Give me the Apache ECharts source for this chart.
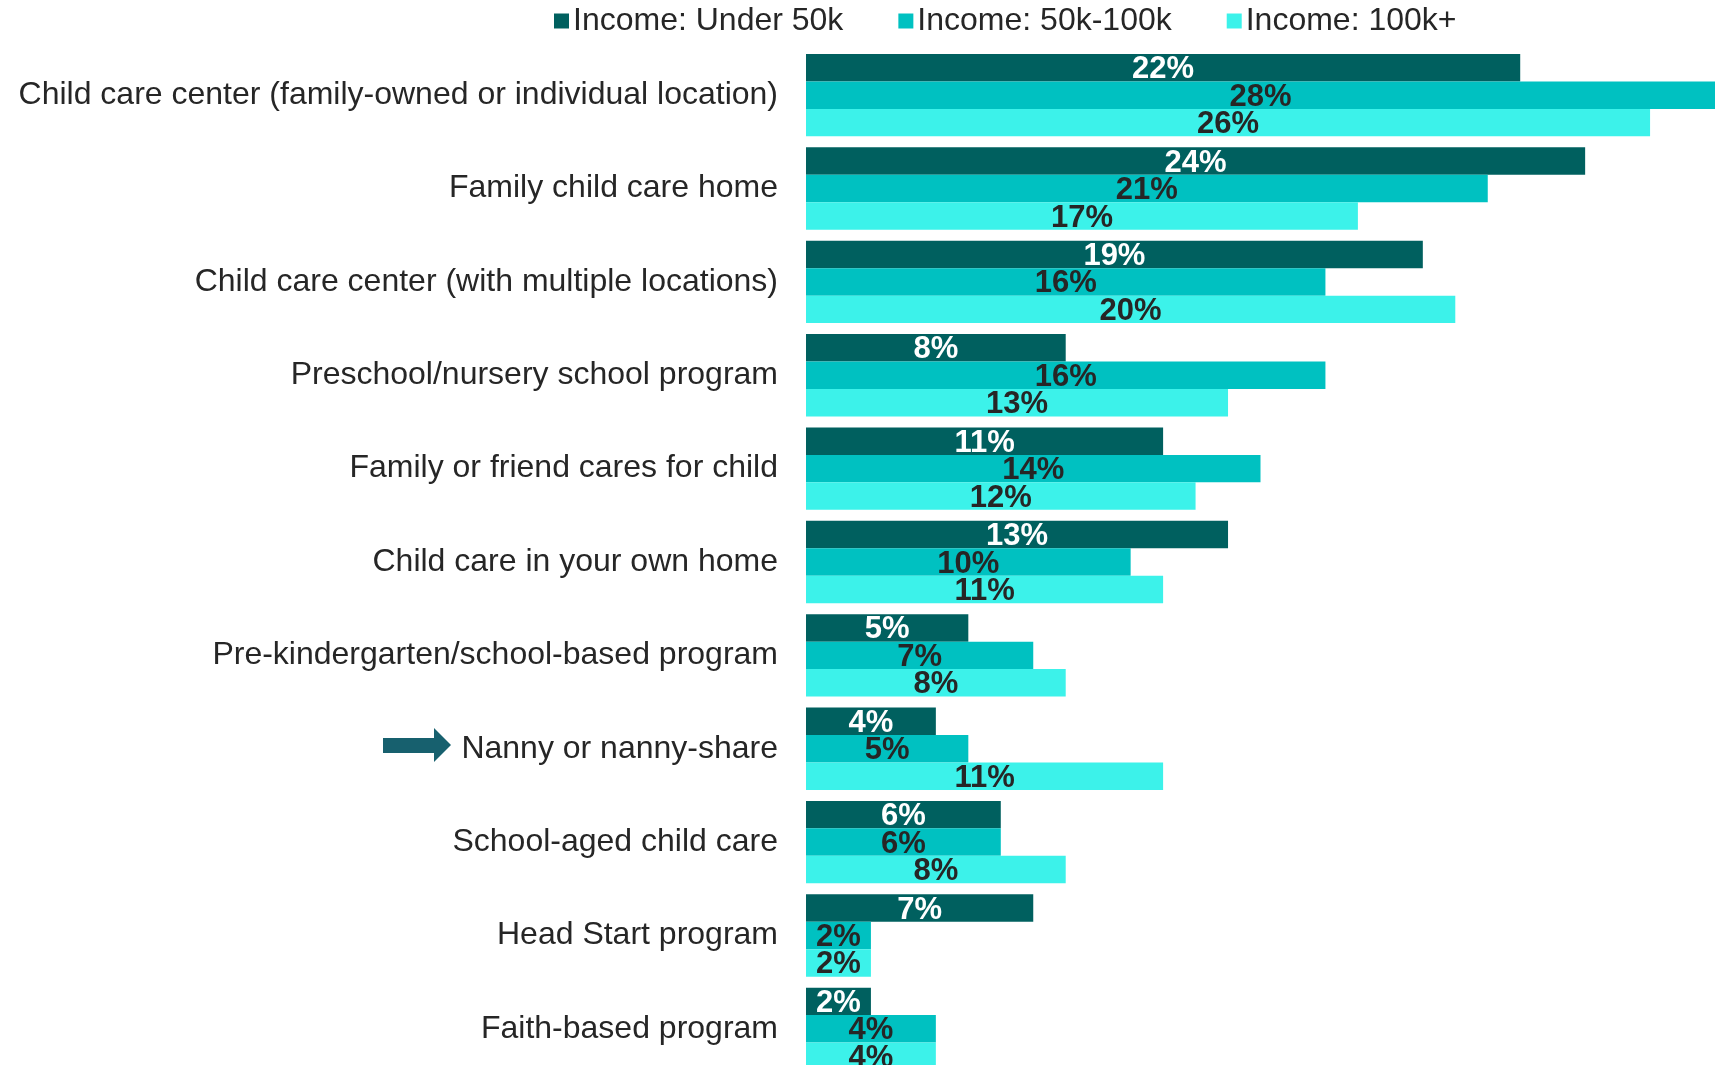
<!DOCTYPE html>
<html>
<head>
<meta charset="utf-8">
<script src="https://cdn.jsdelivr.net/npm/echarts@6/dist/echarts.min.js"></script>
<style>
  html, body { margin: 0; padding: 0; background: #ffffff; overflow: hidden; }
  /* the last category group runs past the bottom edge of the window */
  #chart { width: 1724px; height: 1090px; }
</style>
</head>
<body>
<div id="chart"></div>
<script>
// Types of child care used, by household income (%)
const categories = [
  'Child care center (family-owned or individual location)',
  'Family child care home',
  'Child care center (with multiple locations)',
  'Preschool/nursery school program',
  'Family or friend cares for child',
  'Child care in your own home',
  'Pre-kindergarten/school-based program',
  'Nanny or nanny-share',
  'School-aged child care',
  'Head Start program',
  'Faith-based program'
];
const seriesNames = ['Income: Under 50k', 'Income: 50k-100k', 'Income: 100k+'];
const incomeUnder50k = [22, 24, 19, 8, 11, 13, 5, 4, 6, 7, 2];
const income50to100k = [28, 21, 16, 16, 14, 10, 7, 5, 6, 2, 4];
const income100kPlus = [26, 17, 20, 13, 12, 11, 8, 11, 8, 2, 4];

const colors = ['#00605f', '#00c1c1', '#3cf2ea'];
const labelColors = ['#ffffff', '#262626', '#262626'];
const values = [incomeUnder50k, income50to100k, income100kPlus];

const chart = echarts.init(document.getElementById('chart'));

const series = values.map((data, i) => ({
  name: seriesNames[i],
  type: 'bar',
  data: data,
  barGap: '0%',
  barCategoryGap: '11.8%',
  itemStyle: { color: colors[i] },
  label: {
    show: true,
    position: 'inside',
    offset: [0, 2],
    formatter: '{c}%',
    color: labelColors[i],
    fontFamily: 'Liberation Sans, Arial, sans-serif',
    fontWeight: 'bold',
    fontSize: 31
  }
}));

chart.setOption({
  animation: false,
  backgroundColor: '#ffffff',
  legend: {
    data: seriesNames,
    left: 549,
    top: 0,
    itemWidth: 15,
    itemHeight: 15,
    itemGap: 55,
    icon: 'rect',
    textStyle: {
      fontFamily: 'Liberation Sans, Arial, sans-serif',
      fontSize: 32,
      color: '#262626',
      padding: [0, 0, 0, -1]
    }
  },
  grid: {
    left: 806,
    right: 9,
    top: 48.5,
    height: 1027
  },
  xAxis: {
    type: 'value',
    min: 0,
    max: 28,
    show: false,
    splitLine: { show: false }
  },
  yAxis: {
    type: 'category',
    data: categories,
    inverse: true,
    axisLine: { show: false },
    axisTick: { show: false },
    axisLabel: {
      margin: 28,
      padding: [4, 0, 0, 0],
      fontFamily: 'Liberation Sans, Arial, sans-serif',
      fontSize: 32,
      color: '#262626'
    }
  },
  series: series,
  graphic: [{
    // pointer arrow beside the nanny category
    type: 'polygon',
    shape: {
      points: [[383, 738], [434, 738], [434, 728], [451, 745], [434, 762], [434, 753], [383, 753]]
    },
    style: { fill: '#17606e' }
  }]
});
</script>
</body>
</html>
